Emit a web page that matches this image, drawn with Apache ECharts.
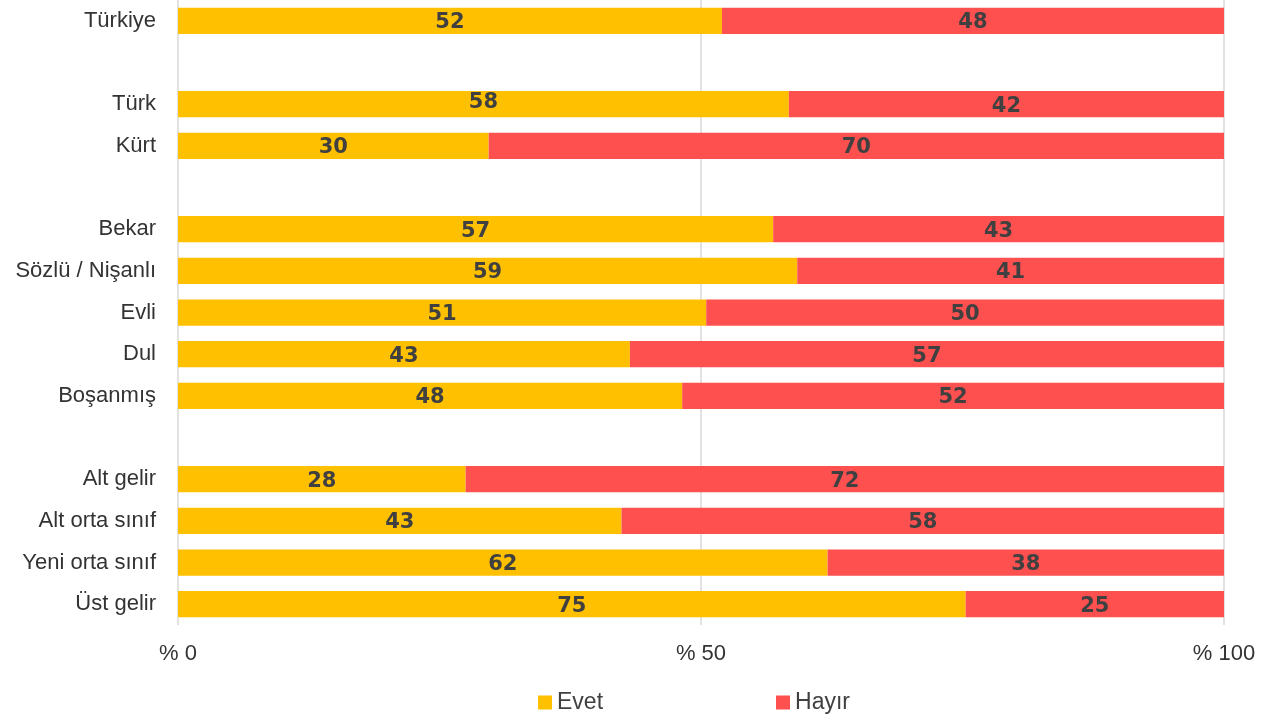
<!DOCTYPE html>
<html>
<head>
<meta charset="utf-8">
<script src="https://cdn.jsdelivr.net/npm/echarts@6/dist/echarts.min.js"></script>
<style>
  html, body { margin: 0; padding: 0; background: #fff; }
  #container { width: 1272px; height: 719px; }
</style>
</head>
<body>
<div id="container"></div>
<script>
var categories = ['Türkiye', '', 'Türk', 'Kürt', ' ', 'Bekar', 'Sözlü / Nişanlı', 'Evli', 'Dul', 'Boşanmış', '  ', 'Alt gelir', 'Alt orta sınıf', 'Yeni orta sınıf', 'Üst gelir'];
// labels as printed on the bars
var evetLabels = [52, null, 58, 30, null, 57, 59, 51, 43, 48, null, 28, 43, 62, 75];
var hayirLabels = [48, null, 42, 70, null, 43, 41, 50, 57, 52, null, 72, 58, 38, 25];
// bar lengths (percent of row)
var evetShare = [52.0, null, 58.4, 29.7, null, 56.9, 59.2, 50.5, 43.2, 48.2, null, 27.5, 42.4, 62.1, 75.3];
var hayirShare = [48.0, null, 41.6, 70.3, null, 43.1, 40.8, 49.5, 56.8, 51.8, null, 72.5, 57.6, 37.9, 24.7];
var tickLabels = ['% 0', '% 50', '% 100'];

var dom = document.getElementById("container");
var myChart = echarts.init(dom);

var axisFont = "'Liberation Sans', Arimo, sans-serif";

function toData(share, labels) {
    return share.map(function (v, i) {
        if (v == null) return null;
        return { value: v, raw: labels[i] };
    });
}

var evetData = toData(evetShare, evetLabels);
var hayirData = toData(hayirShare, hayirLabels);
// the 58 sits a bit high in the original
evetData[2].label = { offset: [0, -2] };

var seriesLabel = {
    show: true,
    position: 'inside',
    offset: [0, 2],
    color: '#404040',
    fontFamily: "'DejaVu Sans', sans-serif",
    fontWeight: 'bold',
    fontSize: 21,
    formatter: function (p) { return p.data.raw; }
};

option = {
    animation: false,
    grid: {
        left: 178,
        right: 48,
        top: 0,
        bottom: 94
    },
    legend: {
        data: ['Evet', 'Hayır'],
        top: 686,
        left: 533,
        itemWidth: 14,
        itemHeight: 14,
        itemGap: 173,
        icon: 'rect',
        textStyle: {
            fontFamily: axisFont,
            fontSize: 23,
            color: '#404040'
        }
    },
    xAxis: {
        type: 'value',
        min: 0,
        max: 100,
        interval: 50,
        axisLine: { show: false },
        axisTick: { show: false },
        splitLine: { lineStyle: { color: '#d9d9d9', width: 1.5 } },
        axisLabel: {
            margin: 18,
            fontFamily: axisFont,
            fontSize: 22,
            color: '#333333',
            formatter: function (v) { return tickLabels[v / 50]; }
        }
    },
    yAxis: {
        type: 'category',
        inverse: true,
        data: categories,
        axisLine: { show: false },
        axisTick: { show: false },
        axisLabel: {
            margin: 22,
            fontFamily: axisFont,
            fontSize: 22,
            color: '#333333'
        }
    },
    series: [
        {
            name: 'Evet',
            type: 'bar',
            stack: 'total',
            barCategoryGap: '37%',
            itemStyle: { color: '#FFC000' },
            label: seriesLabel,
            data: evetData
        },
        {
            name: 'Hayır',
            type: 'bar',
            stack: 'total',
            barCategoryGap: '37%',
            itemStyle: { color: '#FF5050' },
            label: seriesLabel,
            data: hayirData
        }
    ]
};

if (option && typeof option === "object") {
    myChart.setOption(option, true);
}
</script>
</body>
</html>
